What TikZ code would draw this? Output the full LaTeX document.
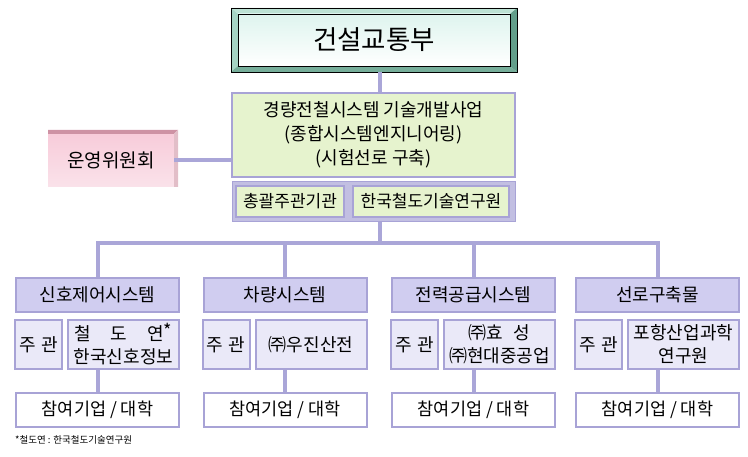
\documentclass[tikz,border=0pt]{standalone}
\usepackage{fontspec}
\setmainfont{Noto Sans CJK KR}
\definecolor{conncol}{RGB}{170,166,216}
\definecolor{boxline}{RGB}{168,163,214}
\definecolor{hdfill}{RGB}{208,205,240}
\definecolor{subfill}{RGB}{234,233,248}
\definecolor{projfill}{RGB}{230,243,206}
\definecolor{bevtop}{RGB}{188,226,212}
\definecolor{bevleft}{RGB}{166,212,196}
\definecolor{bevright}{RGB}{98,158,138}
\definecolor{bevbot}{RGB}{118,174,154}
\definecolor{mint}{RGB}{222,244,238}
\definecolor{pinkdark}{RGB}{206,146,164}
\definecolor{pinkmid}{RGB}{248,204,218}
\definecolor{pinklow}{RGB}{250,226,234}
\tikzset{
  conn/.style={draw=conncol,line width=4pt},
  hdbox/.style={draw=boxline,fill=hdfill,line width=2pt,minimum width=163pt,minimum height=34pt,inner sep=0pt,font=\fontsize{18}{21}\selectfont},
  subbox/.style={draw=boxline,fill=subfill,line width=2pt,minimum height=49pt,inner sep=0pt,align=center,font=\fontsize{18}{23}\selectfont},
  botbox/.style={draw=boxline,fill=white,line width=2pt,minimum width=163pt,minimum height=34pt,inner sep=0pt,font=\fontsize{17.5}{20}\selectfont},
  leadbox/.style={draw=boxline,fill=projfill,line width=1.5pt,minimum height=31pt,inner sep=0pt,font=\fontsize{17}{19}\selectfont}
}
\begin{document}
\begin{tikzpicture}[x=1pt,y=-1pt]
        \useasboundingbox (0,0) rectangle (748,457);
        %건설교통부 (bevel)
        \fill[bevtop](231,8)--(517,8)--(510,14)--(238,14)--cycle;
        \fill[bevleft](231,8)--(238,14)--(238,66)--(231,72)--cycle;
        \fill[bevright](517,8)--(517,72)--(510,66)--(510,14)--cycle;
        \fill[bevbot](231,72)--(517,72)--(510,66)--(238,66)--cycle;
        \shade[top color=mint,bottom color=white](238,14) rectangle (510,66);
        \draw[line width=0.6pt](231,8) rectangle (517,72);
        \draw[line width=0.4pt](238,14) rectangle (510,66);
        \node[minimum width=286pt,minimum height=64pt,inner sep=0pt,font=\fontsize{26.5}{30}\selectfont] (mot) at (374,40) {건설교통부};
        %사업
        \node[draw=boxline,fill=projfill,line width=2pt,minimum width=283pt,minimum height=84pt,inner sep=0pt,align=center,font=\fontsize{18}{24}\selectfont] (proj) at (373.5,135) {경량전철시스템 기술개발사업\\(종합시스템엔지니어링)\\(시험선로 구축)};
        \node[draw=boxline,fill=boxline!70,line width=1pt,minimum width=283pt,minimum height=40pt] (subrow) at (373.5,202) {};
        \node[leadbox,minimum width=108pt] (lead) at (290,201.5) {총괄주관기관};
        \node[leadbox,minimum width=156pt] (kri) at (431,201.5) {한국철도기술연구원};
        %운영위원회 (3d)
        \shade[top color=pinkmid,middle color=white,bottom color=pinklow](48,134) rectangle (174,187);
        \fill[pinkdark](48,130)--(178,130)--(174,134)--(48,134)--cycle;
        \fill[pinkdark!60](178,130)--(178,187)--(174,187)--(174,134)--cycle;
        \node[minimum width=126pt,minimum height=53pt,inner sep=0pt,font=\fontsize{19}{22}\selectfont] (com) at (111,160.5) {운영위원회};
        %linee
        \coordinate (bar) at (380,243);
        \draw[conn](mot.south -| bar)--(proj.north -| bar);
        \draw[conn](com.east)--(com.east -| proj.west);
        \draw[conn](subrow.south -| bar)--(bar);
        %sistemi
        \foreach \x/\hd/\co [count=\i] in {97.5/신호제어시스템/{철\hspace{1.1em}도\hspace{1.1em}연\raisebox{3pt}{*}\\한국신호정보},285/차량시스템/㈜우진산전,473.5/전력공급시스템/{㈜효\hspace{0.6em}성\\㈜현대중공업},657.5/선로구축물/{포항산업과학\\연구원}}{
          \node[hdbox] (hd\i) at (\x,295) {\hd};
          \node[subbox,minimum width=47pt] (ju\i) at (\x-59,344.5) {주\hspace{0.3em}관};
          \node[subbox,minimum width=111pt] (co\i) at (\x+26,344.5) {\co};
          \node[botbox] (bot\i) at (\x,410) {참여기업 / 대학};
          \draw[conn](co\i.south -| bot\i.north)--(bot\i.north);
          \draw[conn](hd\i.north)|-(bar);
        }
        \node[anchor=west,inner sep=0pt,font=\fontsize{9.5}{11}\selectfont] (note) at (15,440) {*철도연 : 한국철도기술연구원};
\end{tikzpicture}
\end{document}
